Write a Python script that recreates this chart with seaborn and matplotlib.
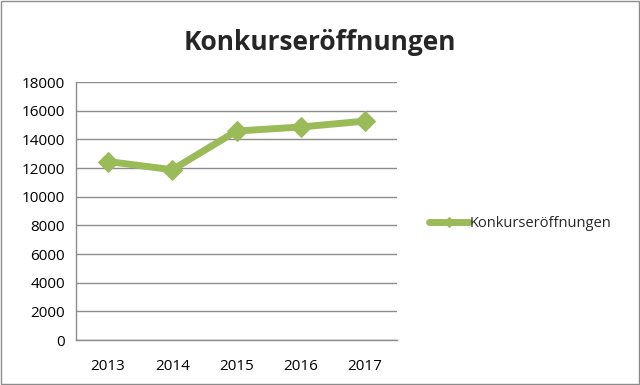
import matplotlib
matplotlib.use("Agg")
import matplotlib.pyplot as plt
import seaborn as sns
import pandas as pd
from matplotlib.patches import Rectangle

years = ["2013", "2014", "2015", "2016", "2017"]
values = [12450, 11880, 14580, 14860, 15270]
series_name = "Konkurseröffnungen"
y_ticks = [0, 2000, 4000, 6000, 8000, 10000, 12000, 14000, 16000, 18000]

df = pd.DataFrame({"Jahr": years, "Wert": values})

sns.set_style("white")
plt.rcParams['font.family'] = ['Open Sans', 'DejaVu Sans']

fig = plt.figure(figsize=(6.4, 3.85), dpi=100)
ax = fig.add_axes([76/640, 1-340/385, (397-76)/640, (340-82)/385])

green = "#9BBB59"
sns.lineplot(data=df, x="Jahr", y="Wert", ax=ax, color=green, linewidth=5,
             marker="D", markersize=10, markeredgecolor=green, label=series_name)

ax.set_xlim(-0.5, len(years) - 0.5)
ax.set_ylim(0, 18000)
ax.set_yticks(y_ticks)
ax.set_yticklabels([str(t) for t in y_ticks])
ax.yaxis.grid(True, color="#8c8c8c", linewidth=1)
ax.set_axisbelow(True)
ax.set_xlabel("")
ax.set_ylabel("")

for s in ["top", "right"]:
    ax.spines[s].set_visible(False)
for s in ["left", "bottom"]:
    ax.spines[s].set_color("#8c8c8c")
    ax.spines[s].set_linewidth(1)

ax.set_xticks([i - 0.5 for i in range(len(years) + 1)], minor=True)
ax.tick_params(axis="x", which="major", length=0, labelsize=11, pad=14, colors="black")
ax.tick_params(axis="x", which="minor", length=5, direction="out", color="#8c8c8c")
ax.tick_params(axis="y", length=5, direction="out", color="#8c8c8c", labelsize=11, colors="black", pad=3)

fig.text(0.5, 1 - 43/385, series_name, ha="center", va="center", fontsize=19, fontweight="bold")

leg = ax.legend(loc="center left", bbox_to_anchor=(1.06, 0.45), frameon=False, fontsize=10.5,
                handlelength=2.7, handletextpad=0.05, markerscale=0.5)

fig.patches.append(Rectangle((0.002, 0.003), 0.996, 0.994, transform=fig.transFigure,
                             fill=False, edgecolor="#8c8c8c", linewidth=1))

fig.savefig("out.png", dpi=100)
